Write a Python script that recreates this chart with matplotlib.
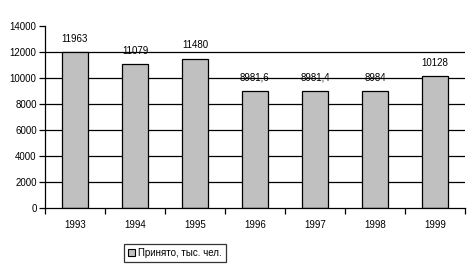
import matplotlib
matplotlib.use("Agg")
import matplotlib.pyplot as plt
import numpy as np
from matplotlib.patches import Patch

# dannye
years = ["1993", "1994", "1995", "1996", "1997", "1998", "1999"]
prinyato = [11963, 11079, 11480, 8981.6, 8981.4, 8984, 10128]
labels = ["11963", "11079", "11480", "8981,6", "8981,4", "8984", "10128"]
yticks = [0, 2000, 4000, 6000, 8000, 10000, 12000, 14000]

plt.rcParams['font.family'] = ['Liberation Sans', 'DejaVu Sans']
plt.rcParams['font.size'] = 7

fig = plt.figure(figsize=(4.75, 2.72), dpi=100)
ax = fig.add_axes([45/475, 1-207.7/272, 420/475, (207.7-26)/272])

x = np.arange(len(years))
bars = ax.bar(x, prinyato, width=0.42, color="#C0C0C0", edgecolor="black", linewidth=0.9, zorder=3)

for b, t in zip(bars, labels):
    ax.annotate(t, (b.get_x()+b.get_width()/2, b.get_height()), xytext=(0, 6),
                textcoords="offset points", ha="center", va="bottom", fontsize=7)

ax.set_xlim(-0.5, len(years)-0.5)
ax.set_ylim(0, 14000)
ax.set_yticks(yticks)
for v in yticks[1:-1]:
    ax.axhline(v, color="black", linewidth=0.9, zorder=1)

# tiki po granicam kategorij
ax.set_xticks(np.arange(-0.5, len(years), 1.0))
ax.set_xticklabels([])
ax.set_xticks(x, minor=True)
ax.set_xticklabels(years, minor=True)
ax.tick_params(axis="x", which="major", length=4, width=0.9, direction="out")
ax.tick_params(axis="x", which="minor", length=0, pad=9)
ax.tick_params(axis="y", length=4, width=0.9, direction="out", pad=2)

for s in ["top", "right"]:
    ax.spines[s].set_visible(False)
for s in ["left", "bottom"]:
    ax.spines[s].set_linewidth(0.9)
    ax.spines[s].set_zorder(4)

leg = fig.legend(handles=[Patch(facecolor="#C0C0C0", edgecolor="black", linewidth=0.8, label="Принято, тыс. чел.")],
                 loc="center", bbox_to_anchor=(175/475, 1-253/272), frameon=True, fancybox=False,
                 handlelength=0.7, handleheight=0.7, handletextpad=0.3, borderpad=0.45,
                 borderaxespad=0, fontsize=7)
leg.get_frame().set_edgecolor("black")
leg.get_frame().set_linewidth(0.9)

fig.savefig("out.png", dpi=100)
